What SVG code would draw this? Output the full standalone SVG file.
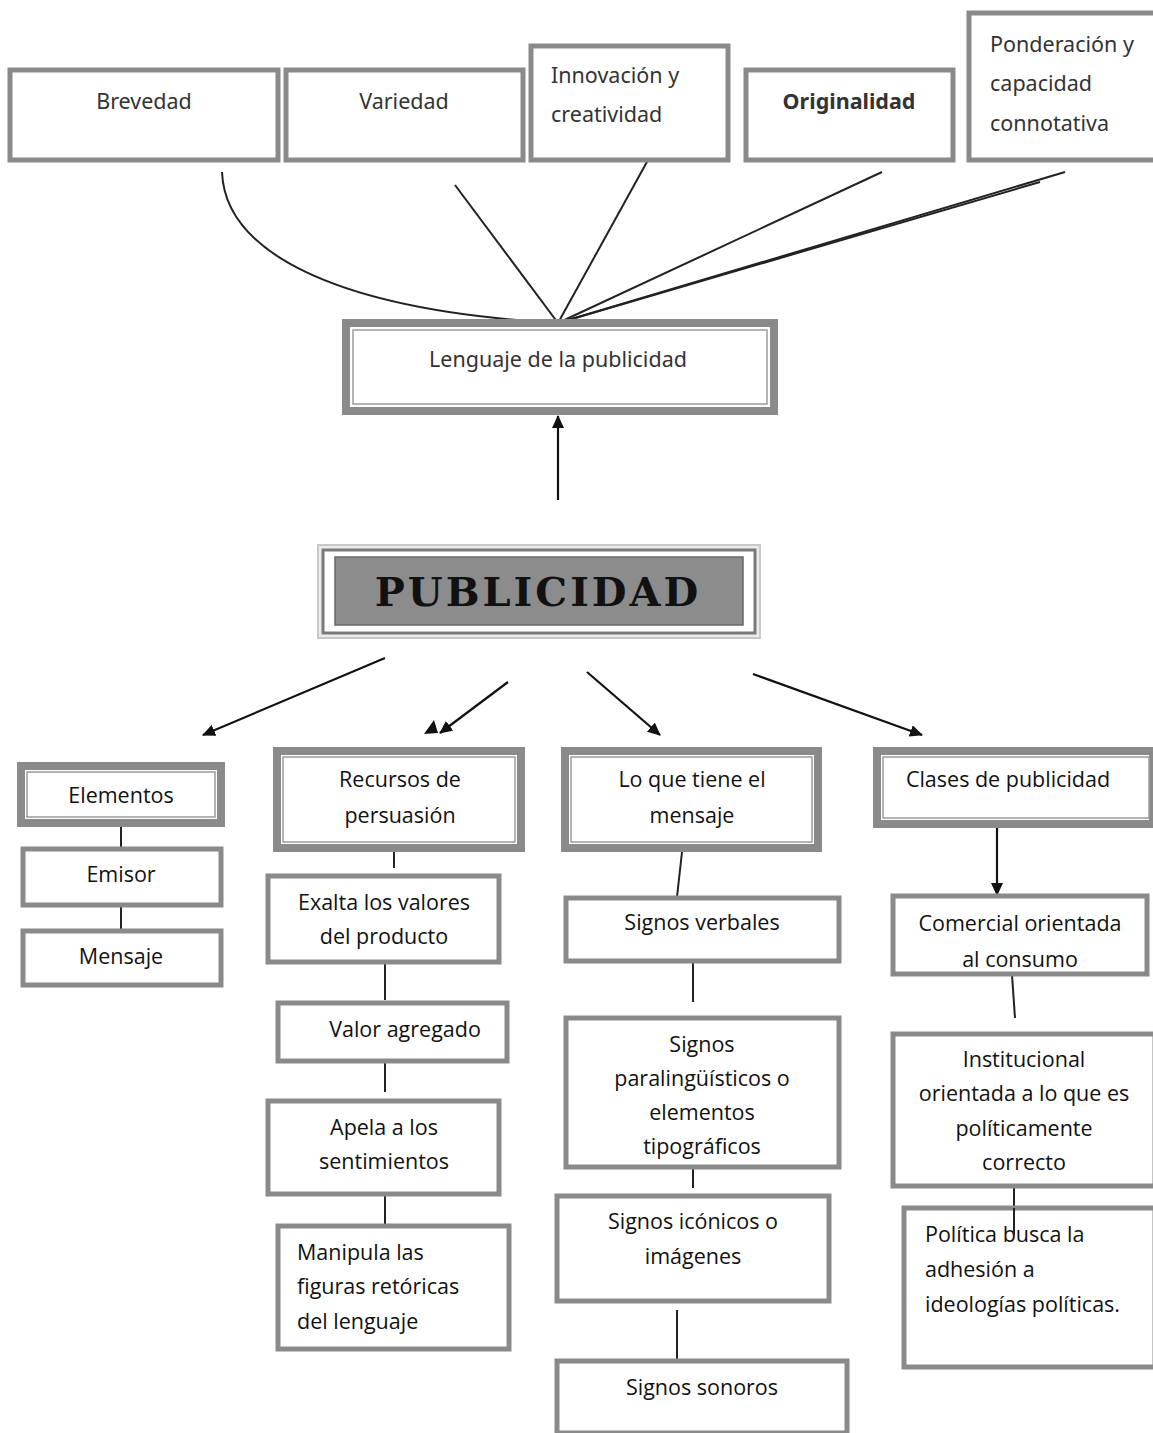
<svg xmlns="http://www.w3.org/2000/svg" width="1153" height="1433" viewBox="0 0 1153 1433">
<defs>
<style>
.b{fill:#fff;stroke:#8a8a8a;stroke-width:5}
.bo{fill:#fff;stroke:#8a8a8a;stroke-width:8}
.bi{fill:none;stroke:#9a9a9a;stroke-width:1.5}
.t{font-family:"Open Sans","Noto Sans",sans-serif;font-size:21.5px;fill:#111;text-anchor:middle}
.tl{font-family:"Open Sans","Noto Sans",sans-serif;font-size:21.5px;fill:#111;text-anchor:start}
.tt{font-family:"Noto Sans","Open Sans",sans-serif;font-size:21.5px;fill:#333;text-anchor:middle}
.c{fill:none;stroke:#222;stroke-width:2}
.a{fill:none;stroke:#111;stroke-width:2.2;marker-end:url(#ah)}
</style>
<marker id="ah" markerWidth="14" markerHeight="14" refX="12" refY="6" orient="auto" markerUnits="userSpaceOnUse">
<path d="M0,0 L13,6 L0,12 Z" fill="#111"/>
</marker>
<clipPath id="cc"><rect x="892" y="895" width="256" height="74"/></clipPath>
</defs>

<g id="connectors">
<path class="c" d="M222,172 C225,250 330,310 558,323"/>
<line class="c" x1="455" y1="185" x2="558" y2="323"/>
<line class="c" x1="648" y1="160" x2="558" y2="323"/>
<line class="c" x1="882" y1="172" x2="558" y2="323"/>
<line class="c" x1="1065" y1="172" x2="558" y2="323"/>
<line class="c" x1="1040" y1="182" x2="565" y2="321"/>
<line class="a" x1="558" y1="500" x2="558" y2="416"/>
<line class="a" x1="385" y1="658" x2="203" y2="735"/>
<line class="a" x1="508" y1="682" x2="440" y2="733"/>
<path d="M424,734 L434,720 L438,733 Z" fill="#111"/>
<line class="a" x1="587" y1="672" x2="660" y2="735"/>
<line class="a" x1="753" y1="674" x2="922" y2="735"/>
<line class="c" x1="121" y1="827" x2="121" y2="848"/>
<line class="c" x1="121" y1="906" x2="121" y2="930"/>
<line class="c" x1="394" y1="852" x2="394" y2="868"/>
<line class="c" x1="385" y1="963" x2="385" y2="1000"/>
<line class="c" x1="385" y1="1062" x2="385" y2="1092"/>
<line class="c" x1="385" y1="1195" x2="385" y2="1225"/>
<line class="c" x1="682" y1="852" x2="677" y2="897"/>
<line class="c" x1="693" y1="958" x2="693" y2="1002"/>
<line class="c" x1="693" y1="1168" x2="693" y2="1188"/>
<line class="c" x1="677" y1="1310" x2="677" y2="1360"/>
<line class="a" x1="997" y1="827" x2="997" y2="895"/>
<line class="c" x1="1012" y1="975" x2="1015" y2="1018"/>
<line class="c" x1="1014" y1="1187" x2="1014" y2="1235"/>
</g>

<g id="brevedad"><rect class="b" x="10" y="70" width="268" height="90"/><text class="tt" x="144" y="109">Brevedad</text></g>
<g id="variedad"><rect class="b" x="286" y="70" width="237" height="90"/><text class="tt" x="404" y="109">Variedad</text></g>
<g id="innovacion"><rect class="b" x="531" y="46" width="197" height="114"/><text class="tt" x="551" y="83" style="text-anchor:start">Innovación y</text><text class="tt" x="551" y="122" style="text-anchor:start">creatividad</text></g>
<g id="originalidad"><rect class="b" x="746" y="70" width="207" height="90"/><text class="tt" x="849" y="109" font-weight="bold">Originalidad</text></g>
<g id="ponderacion"><rect class="b" x="969" y="13" width="190" height="147"/><text class="tt" x="990" y="52" style="text-anchor:start">Ponderación y</text><text class="tt" x="990" y="91" style="text-anchor:start">capacidad</text><text class="tt" x="990" y="131" style="text-anchor:start">connotativa</text></g>

<g id="lenguaje"><rect class="bo" x="346" y="323" width="428" height="88"/><rect class="bi" x="353" y="330" width="414" height="74"/><text class="tt" x="558" y="367">Lenguaje de la publicidad</text></g>

<g id="publicidad">
<rect x="318" y="545" width="442" height="93" fill="#ececec" stroke="#c8c8c8" stroke-width="2"/>
<rect x="323" y="550" width="432" height="83" fill="#fff" stroke="#7a7a7a" stroke-width="3"/>
<rect x="335" y="557" width="408" height="68" fill="#8c8c8c" stroke="#666" stroke-width="1.5"/>
<text x="538" y="606" font-family="'DejaVu Serif',serif" font-weight="bold" font-size="40" fill="#111" text-anchor="middle" letter-spacing="3">PUBLICIDAD</text>
</g>

<g id="elementos"><rect class="bo" x="21" y="766" width="200" height="57"/><rect class="bi" x="27" y="772" width="188" height="45"/><text class="t" x="121" y="803">Elementos</text></g>
<g id="emisor"><rect class="b" x="23" y="849" width="198" height="56"/><text class="t" x="121" y="882">Emisor</text></g>
<g id="mensaje"><rect class="b" x="23" y="931" width="198" height="54"/><text class="t" x="121" y="964">Mensaje</text></g>

<g id="recursos"><rect class="bo" x="277" y="751" width="244" height="97"/><rect class="bi" x="283" y="757" width="232" height="85"/><text class="t" x="400" y="787">Recursos de</text><text class="t" x="400" y="823">persuasión</text></g>
<g id="exalta"><rect class="b" x="268" y="876" width="231" height="86"/><text class="t" x="384" y="910">Exalta los valores</text><text class="t" x="384" y="944">del producto</text></g>
<g id="valor"><rect class="b" x="278" y="1003" width="229" height="58"/><text class="t" x="405" y="1037">Valor agregado</text></g>
<g id="apela"><rect class="b" x="268" y="1101" width="231" height="93"/><text class="t" x="384" y="1135">Apela a los</text><text class="t" x="384" y="1169">sentimientos</text></g>
<g id="manipula"><rect class="b" x="278" y="1226" width="231" height="123"/><text class="tl" x="297" y="1260">Manipula las</text><text class="tl" x="297" y="1294">figuras retóricas</text><text class="tl" x="297" y="1329">del lenguaje</text></g>

<g id="loquetiene"><rect class="bo" x="565" y="751" width="253" height="97"/><rect class="bi" x="571" y="757" width="241" height="85"/><text class="t" x="692" y="787">Lo que tiene el</text><text class="t" x="692" y="823">mensaje</text></g>
<g id="verbales"><rect class="b" x="566" y="898" width="273" height="63"/><text class="t" x="702" y="930">Signos verbales</text></g>
<g id="paraling"><rect class="b" x="566" y="1018" width="273" height="149"/><text class="t" x="702" y="1052">Signos</text><text class="t" x="702" y="1086">paralingüísticos o</text><text class="t" x="702" y="1120">elementos</text><text class="t" x="702" y="1154">tipográficos</text></g>
<g id="iconicos"><rect class="b" x="557" y="1196" width="272" height="105"/><text class="t" x="693" y="1229">Signos icónicos o</text><text class="t" x="693" y="1264">imágenes</text></g>
<g id="sonoros"><rect class="b" x="557" y="1361" width="290" height="72"/><text class="t" x="702" y="1395">Signos sonoros</text></g>

<g id="clases"><rect class="bo" x="877" y="751" width="276" height="73"/><rect class="bi" x="883" y="757" width="266" height="61"/><text class="t" x="1008" y="787">Clases de publicidad</text></g>
<g id="comercial"><rect class="b" x="893" y="896" width="254" height="78"/><g clip-path="url(#cc)"><text class="t" x="1020" y="931">Comercial orientada</text><text class="t" x="1020" y="967">al consumo</text></g></g>
<g id="institucional"><rect class="b" x="893" y="1034" width="262" height="152"/><text class="t" x="1024" y="1067">Institucional</text><text class="t" x="1024" y="1101">orientada a lo que es</text><text class="t" x="1024" y="1136">políticamente</text><text class="t" x="1024" y="1170">correcto</text></g>
<g id="politica"><rect class="b" x="904" y="1208" width="251" height="159"/><text class="tl" x="925" y="1242">Política busca la</text><text class="tl" x="925" y="1277">adhesión a</text><text class="tl" x="925" y="1312">ideologías políticas.</text></g>
<line class="c" x1="1014" y1="1208" x2="1014" y2="1235"/>
</svg>
